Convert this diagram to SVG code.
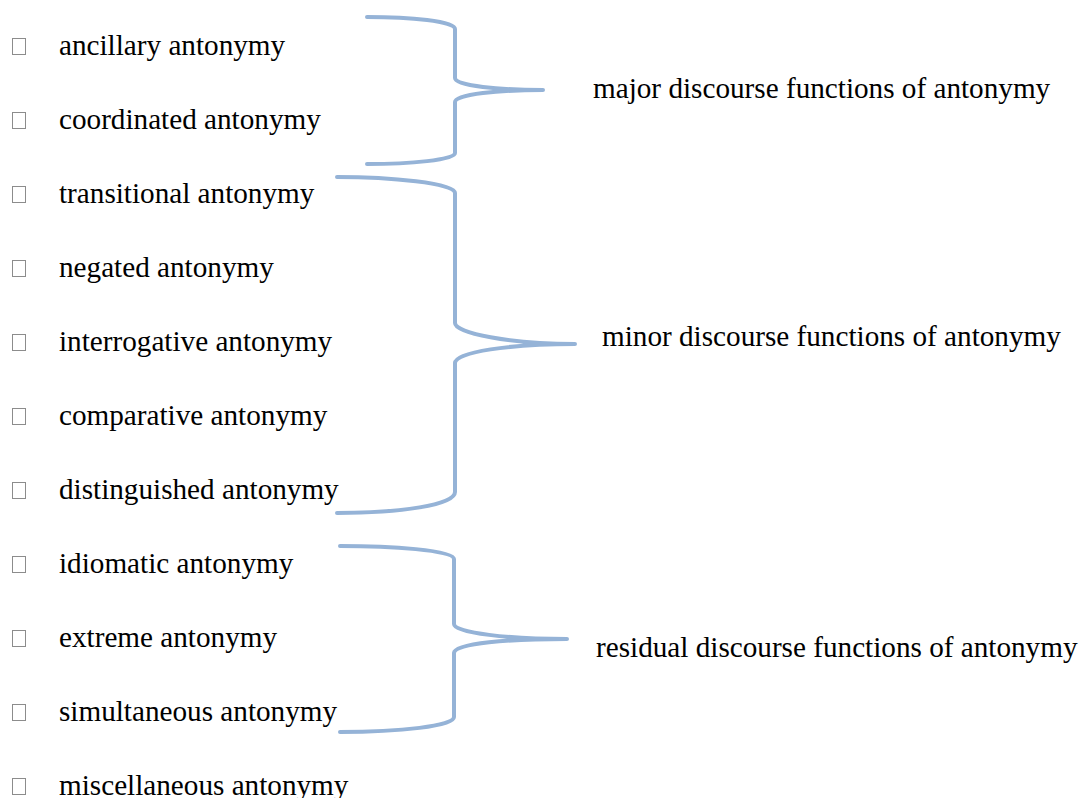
<svg xmlns="http://www.w3.org/2000/svg" width="1081" height="798" viewBox="0 0 1081 798">
<style>
text{font-family:"Liberation Serif","Times New Roman",serif;font-size:29.2px;fill:#000}
.box{fill:none;stroke:#8c8c8c;stroke-width:1}
.brace{fill:none;stroke:#95b3d7;stroke-width:4;stroke-linecap:round;stroke-linejoin:round}
</style>
<rect width="1081" height="798" fill="#fff"/>
<g id="items">
<g id="n1"><rect class="box" x="12.5" y="38.5" width="13" height="16"/><text x="59" y="55">ancillary antonymy</text></g>
<g id="n2"><rect class="box" x="12.5" y="112.5" width="13" height="16"/><text x="59" y="129">coordinated antonymy</text></g>
<g id="n3"><rect class="box" x="12.5" y="186.5" width="13" height="16"/><text x="59" y="203">transitional antonymy</text></g>
<g id="n4"><rect class="box" x="12.5" y="260.5" width="13" height="16"/><text x="59" y="277">negated antonymy</text></g>
<g id="n5"><rect class="box" x="12.5" y="334.5" width="13" height="16"/><text x="59" y="351">interrogative antonymy</text></g>
<g id="n6"><rect class="box" x="12.5" y="408.5" width="13" height="16"/><text x="59" y="425">comparative antonymy</text></g>
<g id="n7"><rect class="box" x="12.5" y="482.5" width="13" height="16"/><text x="59" y="499">distinguished antonymy</text></g>
<g id="n8"><rect class="box" x="12.5" y="556.5" width="13" height="16"/><text x="59" y="573">idiomatic antonymy</text></g>
<g id="n9"><rect class="box" x="12.5" y="630.5" width="13" height="16"/><text x="59" y="647">extreme antonymy</text></g>
<g id="n10"><rect class="box" x="12.5" y="704.5" width="13" height="16"/><text x="59" y="721">simultaneous antonymy</text></g>
<g id="n11"><rect class="box" x="12.5" y="778.5" width="13" height="16"/><text x="59" y="795">miscellaneous antonymy</text></g>
</g>
<g id="labels">
<g id="major"><text x="593" y="98">major discourse functions of antonymy</text></g>
<g id="minor"><text x="602" y="346">minor discourse functions of antonymy</text></g>
<g id="residual"><text x="596" y="657">residual discourse functions of antonymy</text></g>
</g>
<g id="connectors">
<path class="brace" d="M367,17 C410,17 455,21 455,29 L455,78 C455,86 500,90 543,90 C500,90 455,94 455,102 L455,153 C455,160 410,164 367,164"/>
<path class="brace" d="M337,177 C390,177 455,183 455,193 L455,323 C455,333 510,344 575,344 C510,344 455,352 455,363 L455,492 C455,505 400,513 337,513"/>
<path class="brace" d="M340,546 C390,546 454,550 454,559 L454,624 C454,633 510,639 567,639 C510,639 454,643 454,653 L454,717 C454,726 400,732 340,732"/>
</g>
</svg>
